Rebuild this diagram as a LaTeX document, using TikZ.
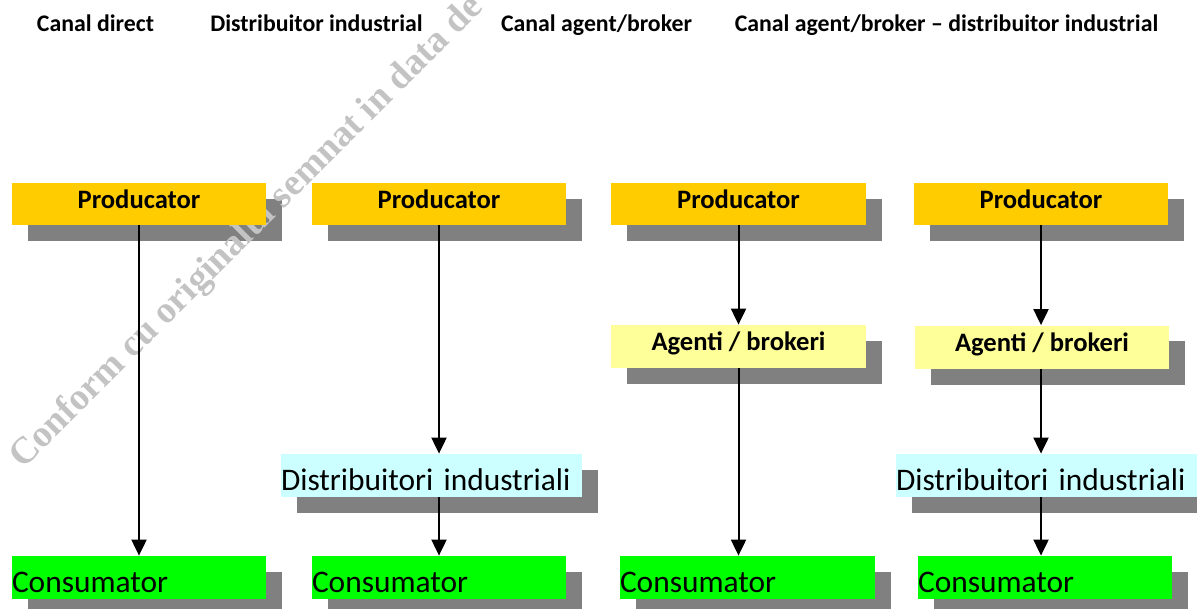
\documentclass[tikz,border=0pt]{standalone}
\usepackage{fontspec}
\setmainfont{Carlito}
\newfontfamily\wmfont{Liberation Serif}
\usetikzlibrary{arrows.meta}
\definecolor{prodyellow}{RGB}{255,204,0}
\definecolor{agentyellow}{RGB}{255,255,153}
\definecolor{distcyan}{RGB}{204,255,255}
\definecolor{consgreen}{RGB}{0,255,0}
\definecolor{shadowgray}{RGB}{128,128,128}
\definecolor{wmgray}{RGB}{195,195,195}
\pgfdeclarelayer{shade}
\pgfdeclarelayer{mark}
\pgfsetlayers{shade,mark,main}

\begin{document}
\begin{tikzpicture}[x=0.5pt,y=-0.5pt,
        box/.style={rectangle,inner sep=0pt,minimum height=21.5pt},
        boldbox/.style={box,font=\fontsize{13.3}{16}\selectfont\bfseries,text height=7pt,text depth=3pt},
        plainbox/.style={box,font=\fontsize{15.7}{19}\selectfont,align=left,text height=14.5pt,text depth=0pt},
        head/.style={anchor=base,inner sep=0pt,font=\fontsize{11.9}{14}\selectfont\bfseries},
        flow/.style={line width=1pt,-{Triangle[width=7.5pt,length=8pt]}}]
    \useasboundingbox (0,0) rectangle (1197,609);

    \node[head] (h1) at (95.5,32) {Canal direct};
    \node[head] (h2) at (316.5,32) {Distribuitor industrial};
    \node[head] (h3) at (596.5,32) {Canal agent/broker};
    \node[head] (h4) at (946.5,32) {Canal agent/broker – distribuitor industrial};

    \node[boldbox,fill=prodyellow,minimum width=127pt,minimum height=21pt] (p1) at (139,204) {Producator};
    \node[boldbox,fill=prodyellow,minimum width=127pt,minimum height=21pt] (p2) at (439,204) {Producator};
    \node[boldbox,fill=prodyellow,minimum width=127.5pt,minimum height=21pt] (p3) at (738.5,204) {Producator};
    \node[boldbox,fill=prodyellow,minimum width=127pt,minimum height=21pt] (p4) at (1041,204) {Producator};

    \node[boldbox,fill=agentyellow,minimum width=127.5pt] (a3) at (738.5,346.5) {Agenti / brokeri};
    \node[boldbox,fill=agentyellow,minimum width=127pt] (a4) at (1042,347) {Agenti / brokeri};

    \node[plainbox,fill=distcyan,text width=150.5pt] (d2) at (431.5,475.5) {Distribuitori industriali};
    \node[plainbox,fill=distcyan,text width=151.5pt] (d4) at (1047.5,475.5) {Distribuitori industriali};

    \node[plainbox,fill=consgreen,text width=127pt] (c1) at (139,577.5) {Consumator};
    \node[plainbox,fill=consgreen,text width=127pt] (c2) at (439,577.5) {Consumator};
    \node[plainbox,fill=consgreen,text width=127.5pt] (c3) at (747.5,577.5) {Consumator};
    \node[plainbox,fill=consgreen,text width=127pt] (c4) at (1045,577.5) {Consumator};

    \begin{pgfonlayer}{shade}
        \foreach \b in {p1,p2,p3,p4,a3,a4,d2,d4,c1,c2,c3,c4}
            \fill[shadowgray] ([xshift=8pt,yshift=-8pt]\b.south west) rectangle ([xshift=8pt,yshift=-8pt]\b.north east);
    \end{pgfonlayer}

    \begin{pgfonlayer}{mark}
        \node[anchor=base west,rotate=45,inner sep=0pt,text=wmgray,
            font=\wmfont\fontsize{18.8}{22}\selectfont\bfseries] (wm) at (23,470) {Conform cu originalul semnat in data de};
    \end{pgfonlayer}

    \draw[flow] (p1) -- (c1);

    \draw[flow] (p2.south) -- (p2.south |- d2.north);
    \draw[flow] (p2.south |- d2.south) -- (p2.south |- c2.north);

    \draw[flow] (p3.south) -- (p3.south |- a3.north);
    \draw[flow] (a3.south) -- (a3.south |- c3.north);

    \draw[flow] (p4.south) -- (p4.south |- a4.north);
    \draw[flow] (p4.south |- a4.south) -- (p4.south |- d4.north);
    \draw[flow] (p4.south |- d4.south) -- (p4.south |- c4.north);
\end{tikzpicture}
\end{document}
